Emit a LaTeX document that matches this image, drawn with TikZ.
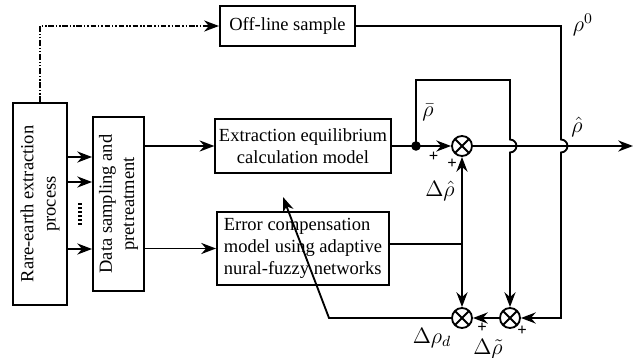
\documentclass[tikz,border=0pt]{standalone}
\usepackage{fontspec}
\setmainfont{Liberation Serif}
\usepackage{amsmath}
\usetikzlibrary{arrows.meta, positioning, calc}

\begin{document}
\begin{tikzpicture}[x=0.019cm, y=0.019cm, >={Stealth[length=8pt,width=6pt]}, line width=1pt,
    box/.style={draw, rectangle, inner sep=2pt},
    sumnode/.style={draw, circle, minimum size=0.38cm, inner sep=0pt,
        path picture={\draw (path picture bounding box.north west) -- (path picture bounding box.south east)
                             (path picture bounding box.north east) -- (path picture bounding box.south west);}},
    sign/.style={font=\small\bfseries, inner sep=0pt},
    mathlabel/.style={font=\large, inner sep=0pt}]

        \useasboundingbox (0,0) rectangle (633,-358);

        % boxes
        \node[box, minimum width=1.03cm, minimum height=3.84cm] (RE) at (40,-204) {};
        \node[rotate=90, align=center] (REtext) at (RE) {Rare-earth extraction\\process};
        \node[box, minimum width=0.97cm, minimum height=3.31cm] (Data) at (118.5,-204) {};
        \node[rotate=90, align=center] (Datatext) at (Data) {Data sampling and\\pretreatment};
        \node[box, minimum width=2.57cm, minimum height=0.76cm] (Off) at (287.5,-26) {Off-line sample};
        \node[box, minimum width=3.27cm, minimum height=1.01cm, align=center] (Ext) at (303,-146) {Extraction equilibrium\\calculation model};
        \node[box, minimum width=3.27cm, minimum height=1.39cm, align=left] (Err) at (303,-248.5) {Error compensation\\model using adaptive\\nural-fuzzy networks};

        % summing points
        \node[sumnode] (SumA) at (462,-146) {};
        \node[sumnode] (SumB) at (462,-318) {};
        \node[sumnode] (SumC) at (510,-318) {};
        \fill (416,-146) circle (2.6pt) coordinate (Dot);

        \coordinate (J) at (462,-244);
        \coordinate (HopA) at (510,-146);
        \coordinate (HopB) at (561,-146);
        \coordinate (Corner) at (329,-318);
        \coordinate (Tip) at (283,-197);
        \coordinate (Out) at (633,-146);

        % process to data sampling
        \foreach \y in {157,182,249}
            \draw[->] (RE.east |- 0,-\y) -- (Data.west |- 0,-\y);
        \draw[line width=1.8pt, dash pattern=on 1pt off 1.2pt] (80,-203) -- (80,-227);

        \draw[->, dash pattern=on 3pt off 1pt on 0.8pt off 1pt on 0.8pt off 1pt] (RE.north) |- (Off.west);
        \draw[->] (Data.east |- Ext) -- (Ext);
        \draw[->] (Data.east |- Err) -- (Err);

        % main path
        \draw (Ext.east) -- (Dot);
        \draw[->] (Dot) -- (SumA.west) node[pos=0.5, below=3pt, sign] {+};
        \draw[->] (SumA.east) -- (Out);
        \draw[->] (Dot) |- (510,-80) -- ([yshift=3.5pt]HopA) arc[start angle=90, end angle=-90, radius=3.5pt] -- (SumC.north);
        \draw[->] (Off.east) -| ([yshift=3.5pt]HopB) arc[start angle=90, end angle=-90, radius=3.5pt] |- (SumC.east);

        % error compensation
        \draw (Err.east |- J) -- (J);
        \draw[->] (J) -- (SumA.south);
        \draw[->] (J) -- (SumB.north);
        \draw[->] (SumC.west) -- (SumB.east);
        \draw[->] (SumB.west) -- (Corner) -- (Tip);

        % labels
        \node[mathlabel] (Lrho0) at (583,-25) {$\rho^{0}$};
        \node[mathlabel] (Lrhohat) at (577,-127) {$\hat{\rho}$};
        \node[mathlabel] (Lrhobar) at (428,-112) {$\bar{\rho}$};
        \node[sign] (PlusA) at (452,-164) {+};
        \node[mathlabel] (Ldrhohat) at (440,-191) {$\Delta\hat{\rho}$};
        \node[mathlabel] (Ldrhod) at (432,-338) {$\Delta\rho_{d}$};
        \node[sign] (PlusB) at (482,-328) {+};
        \node[sign] (PlusC) at (522,-331) {+};
        \node[mathlabel] (Ldrhotil) at (488,-349) {$\Delta\tilde{\rho}$};
    \end{tikzpicture}
\end{document}
